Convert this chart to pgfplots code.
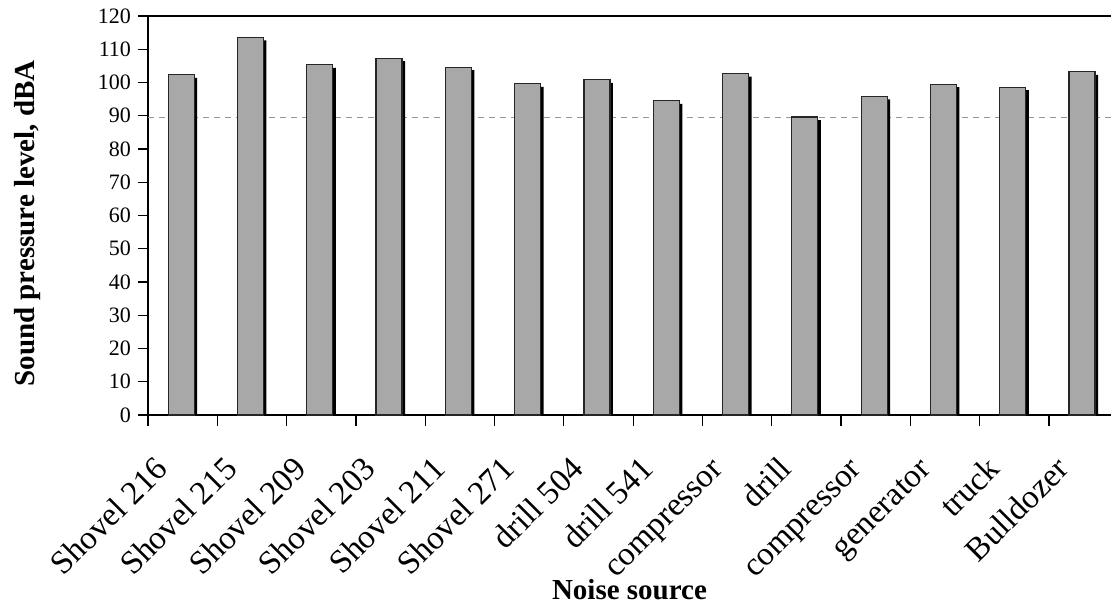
\documentclass[border=0pt]{standalone}
\usepackage{pgfplots}
\pgfplotsset{compat=1.18}
\usepackage{fontspec}
\setmainfont{Liberation Serif}
\usetikzlibrary{calc}
\definecolor{barfill}{RGB}{168,168,168}
\definecolor{dashgray}{RGB}{150,150,150}
\begin{document}
\begin{tikzpicture}
\begin{axis}[
  scale only axis,
  width=481.5pt, height=199.5pt,
  xmin=-0.5, xmax=13.396,
  ymin=0, ymax=120,
  ytick={0,10,...,120},
  xtick={0,...,13},
  xticklabels={Shovel 216, Shovel 215, Shovel 209, Shovel 203, Shovel 211, Shovel 271, drill 504, drill 541, compressor, drill, compressor, generator, truck, Bulldozer},
  minor xtick={-0.5,0.5,...,12.5},
  major x tick style={draw=none},
  axis x line*=bottom, axis y line*=left,
  axis line style={-, line width=0.8pt, black},
  tick align=outside,
  major tick length=5pt,
  minor tick length=5.5pt,
  tick style={line width=0.6pt, black},
  /pgf/number format/assume math mode=true,
  yticklabel style={font=\fontsize{11}{13}\selectfont},
  xticklabel style={font=\fontsize{16.5}{19}\selectfont, xshift=-4pt, yshift=-20.5pt, rotate=45, anchor=base east},
  xlabel={Noise source},
  ylabel={Sound pressure level, dBA},
  xlabel style={font=\fontsize{14.5}{17}\selectfont\bfseries, at={(axis description cs:0.5,0)}, anchor=center, yshift=-87.5pt},
  ylabel style={font=\fontsize{14.5}{17}\selectfont\bfseries, at={(axis description cs:-0.1246,0.48)}, anchor=center},
]
\addplot[dashgray, line width=0.7pt, dash pattern=on 3.2pt off 2.3pt, forget plot] coordinates {(-0.5,89.5) (13.396,89.5)};
\addplot[ybar, bar width=13pt, bar shift=-0.75pt, fill=black, draw=none, xshift=1.5pt, yshift=-1.5pt] coordinates {
(0,102.3) (1,113.6) (2,105.3) (3,107.3) (4,104.6) (5,99.6) (6,100.8) (7,94.5) (8,102.7) (9,89.6) (10,95.8) (11,99.5) (12,98.6) (13,103.2)};
\addplot[ybar, bar width=13pt, bar shift=-0.75pt, fill=barfill, draw=black!85, line width=0.6pt] coordinates {
(0,102.3) (1,113.6) (2,105.3) (3,107.3) (4,104.6) (5,99.6) (6,100.8) (7,94.5) (8,102.7) (9,89.6) (10,95.8) (11,99.5) (12,98.6) (13,103.2)};
\coordinate (SW) at (rel axis cs:0,0);
\coordinate (NW) at (rel axis cs:0,1);
\coordinate (NE) at (rel axis cs:1,1);
\end{axis}
\draw[line width=0.8pt, black] (NW) -- (NE);
\pgfresetboundingbox
\path[use as bounding box] ($(SW)+(-74pt,-96pt)$) rectangle ($(NE)+(0pt,8pt)$);
\end{tikzpicture}
\end{document}
